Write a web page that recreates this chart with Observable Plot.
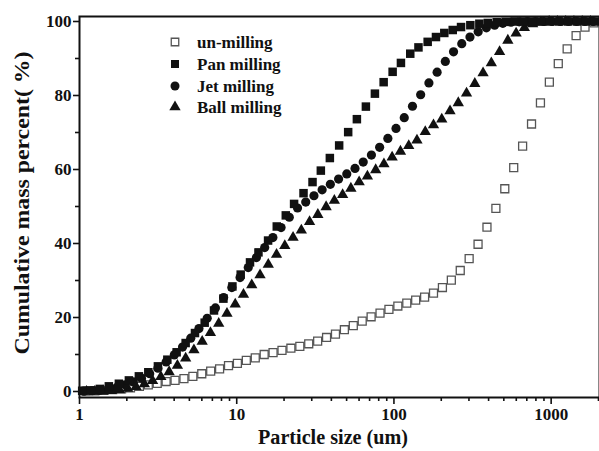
<!DOCTYPE html>
<html><head><meta charset="utf-8">
<script src="https://cdn.jsdelivr.net/npm/d3@7"></script>
<script src="https://cdn.jsdelivr.net/npm/@observablehq/plot@0.6"></script>
<style>body{margin:0;background:#fff} #chart{position:relative;width:599px;height:451px}</style>
</head><body><div id="chart"></div>
<script>
const seriesNames = ["un-milling", "Pan milling", "Jet milling", "Ball milling"];

const unSize = [1.098,1.252,1.426,1.625,1.852,2.110,2.404,2.739,3.121,3.556,4.052,4.617,5.261,5.994,6.830,7.782,8.867,10.10,11.51,13.12,14.95,17.03,19.41,22.11,25.20,28.71,32.72,37.28,42.47,48.40,55.14,62.83,71.59,81.57,92.94,105.9,120.7,137.5,156.7,178.5,203.4,231.8,264.1,300.9,342.8,390.6,445.1,507.1,577.9,658.4,750.2,854.8,974.0,1110,1264,1441,1642,1871];
const unPct = [0.1,0.2,0.3,0.5,0.7,1.0,1.4,1.8,2.2,2.7,3.0,3.5,4.1,4.8,5.5,6.1,7.0,7.6,8.4,9.1,10.0,10.5,11.1,11.7,12.2,12.9,13.6,14.6,15.5,16.7,17.8,19.0,20.2,21.2,22.2,23.1,23.9,24.7,25.5,26.6,28.1,30.1,32.7,35.9,39.8,44.4,49.5,54.8,60.5,66.3,72.3,78.0,83.6,88.6,92.6,96.2,98.5,99.6];

const panSize = [1.04,1.175,1.347,1.537,1.780,2.061,2.386,2.739,3.153,3.620,4.148,4.733,5.426,6.255,7.169,8.229,9.389,10.60,12.15,13.75,15.83,17.98,20.52,23.17,26.60,30.35,34.28,39.12,44.83,51.16,58.12,66.32,75.68,86.01,98.10,110.8,127.0,143.2,163.9,185.1,209.1,236.6,267.2,306.2,349.4,395.2,450.4,513.1,584.8,666.2,759.2,864.9,985.4,1123,1279,1458,1661,1893];
const panPct = [0.2,0.3,0.7,1.4,2.1,3.0,4.1,5.2,6.8,8.6,10.6,13.1,15.8,18.6,21.9,25.1,28.4,31.6,34.9,37.6,40.8,44.6,47.6,50.7,53.6,56.6,59.7,63.1,66.5,70.1,73.6,77.0,80.5,83.6,86.4,88.8,91.3,93.0,94.5,95.8,96.9,97.7,98.5,99.0,99.4,99.6,99.8,99.9,100,100,100,100,100,100,100,100,100,100];

const jetSize = [1.068,1.205,1.359,1.532,1.728,1.949,2.198,2.479,2.796,3.153,3.556,4.010,4.523,5.101,5.753,6.488,7.318,8.253,9.307,10.50,11.84,13.35,15.06,16.98,19.15,21.60,24.36,27.48,30.99,34.94,39.41,44.45,50.12,56.53,63.76,71.91,81.10,91.47,103.1,116.3,131.2,147.9,166.9,188.2,212.3,239.4,270.0,304.5,343.4,387.3,436.8,492.6,555.6,626.6,706.7,797.0,898.9,1013,1143,1289,1454,1640,1849];
const jetPct = [0.1,0.2,0.4,0.7,1.1,1.8,2.6,3.6,4.8,6.3,8.0,9.9,12.0,14.4,17.0,19.8,22.6,25.4,28.1,30.8,33.5,36.2,38.9,41.6,44.3,47.1,49.6,51.2,52.9,54.5,56.0,57.4,58.8,60.3,62.0,63.9,66.0,68.4,71.1,74.0,77.1,80.2,83.4,86.3,89.2,91.8,94.0,95.8,97.2,98.3,99.0,99.5,99.8,99.9,100,100,100,100,100,100,100,100,100];

const ballSize = [1.108,1.251,1.411,1.593,1.798,2.029,2.290,2.585,2.917,3.293,3.717,4.195,4.734,5.343,6.030,6.806,7.682,8.670,9.783,11.04,12.46,14.07,15.88,17.92,20.22,22.82,25.76,29.07,32.81,37.03,41.79,47.17,53.23,60.08,67.80,76.53,86.37,97.39,110.0,124.2,140.1,158.2,178.5,201.5,227.4,256.6,289.6,326.9,368.9,416.4,469.9,530.4,598.6,675.5,762.4,860.5,971.0,1096,1237,1396,1576,1778];
const ballPct = [0,0,0.1,0.2,0.4,0.8,1.3,2.0,2.9,4.0,5.3,7.0,9.0,11.2,13.5,15.9,18.4,21.1,23.6,26.2,28.8,31.5,34.3,37.0,39.4,41.6,43.6,45.9,47.8,49.9,51.6,53.2,54.9,56.6,58.2,59.9,61.5,63.3,64.9,66.4,67.9,70.2,72.0,73.6,75.8,78.0,80.6,83.2,86.1,88.8,91.8,94.9,96.8,98.3,99.3,99.8,100,100,100,100,100,100];

const xMajorTicks = [1, 10, 100, 1000];
const xMinorTicks = [2,3,4,5,6,7,8,9,20,30,40,50,60,70,80,90,200,300,400,500,600,700,800,900,2000];
const yMajorTicks = [0, 20, 40, 60, 80, 100];
const yMinorTicks = [10, 30, 50, 70, 90];
const xLabel = "Particle size (um)";
const yLabel = "Cumulative mass percent( %)";

const rows = (sizes, pcts, name) => sizes.map((s, i) => ({size: s, pct: pcts[i], series: name}));
const unData = rows(unSize, unPct, seriesNames[0]);
const panData = rows(panSize, panPct, seriesNames[1]);
const jetData = rows(jetSize, jetPct, seriesNames[2]);
const ballData = rows(ballSize, ballPct, seriesNames[3]);

const FONT = "'Liberation Serif', 'Times New Roman', serif";
const ink = "#111";

const plot = Plot.plot({
  width: 599, height: 451,
  marginLeft: 79, marginRight: 0, marginTop: 16, marginBottom: 54,
  x: {type: "log", domain: [1, 2030]},
  y: {domain: [-1.62, 101.35]},
  style: {fontFamily: FONT, fontWeight: "bold", fontSize: "17px", color: ink, background: "#fff"},
  marks: [
    Plot.axisX({ticks: xMajorTicks, tickSize: 7, tickPadding: 3, tickFormat: d => String(d), label: null, strokeWidth: 1.6, fontSize: 17, fontWeight: "bold"}),
    Plot.axisX({ticks: xMinorTicks, tickSize: 4, tickFormat: () => "", label: null, strokeWidth: 1.6}),
    Plot.axisY({ticks: yMajorTicks, tickSize: 6, tickPadding: 2, tickFormat: d => String(d), label: null, strokeWidth: 1.6, fontSize: 17, fontWeight: "bold"}),
    Plot.axisY({ticks: yMinorTicks, tickSize: 4, tickFormat: () => "", label: null, strokeWidth: 1.6}),
    Plot.dot(unData, {x: "size", y: "pct", symbol: "square", r: 4.5, fill: "#fff", stroke: "#555", strokeWidth: 1.3}),
    Plot.dot(ballData, {x: "size", y: "pct", symbol: "triangle", r: 4.2, fill: ink, stroke: "none"}),
    Plot.dot(jetData, {x: "size", y: "pct", symbol: "circle", r: 4.6, fill: ink, stroke: "none"}),
    Plot.dot(panData, {x: "size", y: "pct", symbol: "square", r: 4.8, fill: ink, stroke: "none"}),
    Plot.frame({stroke: ink, strokeWidth: 2})
  ]
});
document.getElementById("chart").appendChild(plot);

// axis titles and legend
const svg = d3.select(plot);
svg.append("text").text(xLabel)
  .attr("x", 333).attr("y", 444).attr("text-anchor", "middle")
  .attr("textLength", 150).attr("lengthAdjust", "spacingAndGlyphs")
  .attr("font-family", FONT).attr("font-weight", "bold").attr("font-size", 20).attr("fill", ink);
svg.append("text").text(yLabel)
  .attr("transform", "translate(29,203) rotate(-90)").attr("text-anchor", "middle")
  .attr("textLength", 303).attr("lengthAdjust", "spacingAndGlyphs")
  .attr("font-family", FONT).attr("font-weight", "bold").attr("font-size", 21).attr("fill", ink);

const legendSymbols = [
  {type: d3.symbolSquare, size: 56, fill: "#fff", stroke: "#555"},
  {type: d3.symbolSquare, size: 64, fill: ink, stroke: "none"},
  {type: d3.symbolCircle, size: 64, fill: ink, stroke: "none"},
  {type: d3.symbolTriangle, size: 56, fill: ink, stroke: "none"}
];
const legendY = [42, 64, 86, 107];
const lg = svg.append("g");
seriesNames.forEach((name, i) => {
  const s = legendSymbols[i];
  lg.append("path").attr("d", d3.symbol(s.type, s.size)())
    .attr("transform", `translate(175,${legendY[i]})`)
    .attr("fill", s.fill).attr("stroke", s.stroke).attr("stroke-width", 1.3);
  lg.append("text").text(name).attr("x", 197).attr("y", legendY[i]).attr("dy", "0.35em")
    .attr("text-anchor", "start")
    .attr("font-family", FONT).attr("font-weight", "bold").attr("font-size", 17).attr("fill", ink);
});
</script>
</body></html>
